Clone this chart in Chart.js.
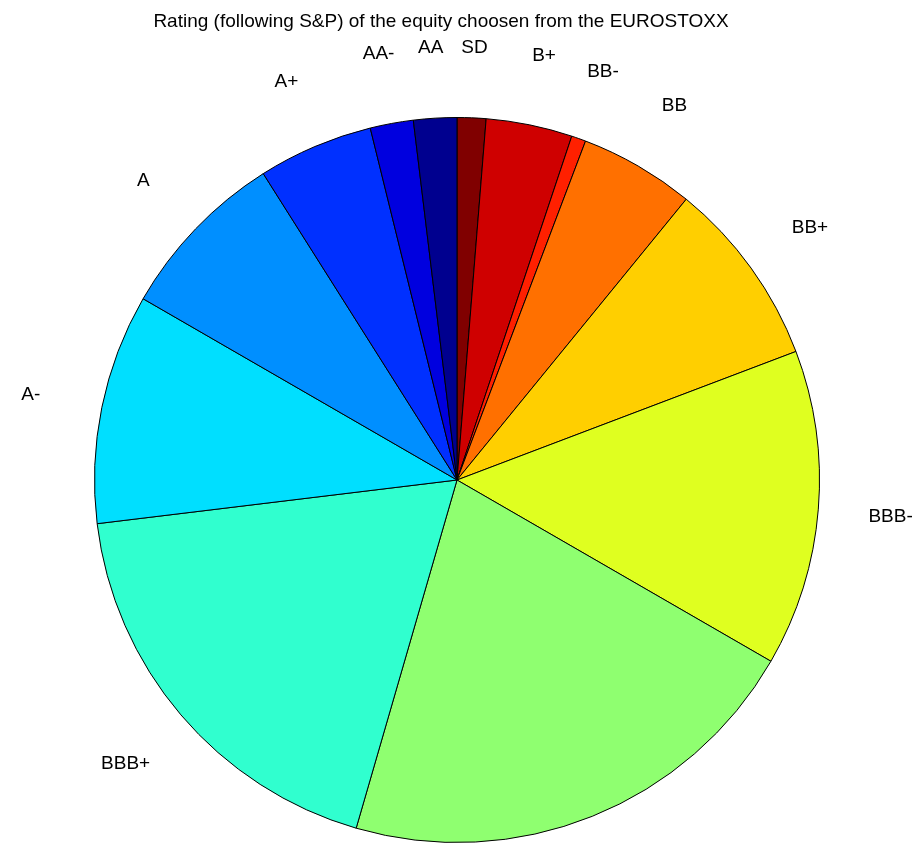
<!DOCTYPE html>
<html>
<head>
<meta charset="utf-8">
<script src="https://cdn.jsdelivr.net/npm/chart.js@4/dist/chart.umd.min.js"></script>
<style>
  html, body { margin: 0; padding: 0; background: #fff; }
  #c { display: block; }
</style>
</head>
<body>
<canvas id="c" width="920" height="843"></canvas>
<script>
// S&P ratings, from best to worst
const ratings = ['AA', 'AA-', 'A+', 'A', 'A-', 'BBB+', 'BBB', 'BBB-', 'BB+', 'BB', 'BB-', 'B+', 'SD'];
// number of equities in each rating class
const counts = [3, 3, 8, 12, 16, 29, 33, 22, 13, 8, 1, 6, 2];
// one jet-colormap entry per rating (navy -> dark red)
const sliceColors = [
  'rgb(0,0,143)', 'rgb(0,0,223)', 'rgb(0,48,255)', 'rgb(0,143,255)',
  'rgb(0,223,255)', 'rgb(48,255,207)', 'rgb(143,255,112)', 'rgb(223,255,32)',
  'rgb(255,207,0)', 'rgb(255,112,0)', 'rgb(255,32,0)', 'rgb(207,0,0)', 'rgb(128,0,0)'
];
const chartTitle = 'Rating (following S&P) of the equity choosen from the EUROSTOXX';

const FONT = '"Liberation Sans", Arial, Helvetica, sans-serif';
const FONT_SIZE = 19;

// Slices run counter-clockwise from 12 o'clock in rating order;
// Chart.js goes clockwise, so feed the lists reversed.
const cwLabels = ratings.slice().reverse();
const cwCounts = counts.slice().reverse();
const cwColors = sliceColors.slice().reverse();

const pieText = {
  id: 'pieText',
  afterDatasetsDraw(chart) {
    const ctx = chart.ctx;
    ctx.save();
    ctx.fillStyle = '#000';
    ctx.font = FONT_SIZE + 'px ' + FONT;
    ctx.textAlign = 'center';
    ctx.textBaseline = 'middle';
    // title above the pie
    const ca = chart.chartArea;
    ctx.fillText(chartTitle, (ca.left + ca.right) / 2 - 16, 21.5);
    // slice names just outside the rim
    const meta = chart.getDatasetMeta(0);
    meta.data.forEach((arc, i) => {
      const p = arc.getProps(['x', 'y', 'startAngle', 'endAngle', 'outerRadius'], true);
      const mid = (p.startAngle + p.endAngle) / 2;
      const r = p.outerRadius * 1.2;
      ctx.fillText(cwLabels[i], p.x + r * Math.cos(mid), p.y + r * Math.sin(mid) + 2);
    });
    ctx.restore();
  }
};

new Chart(document.getElementById('c'), {
  type: 'pie',
  data: {
    labels: cwLabels,
    datasets: [{
      data: cwCounts,
      backgroundColor: cwColors,
      borderColor: '#000',
      borderWidth: 1
    }]
  },
  options: {
    responsive: false,
    animation: false,
    events: [],
    layout: { padding: { top: 117, bottom: 0, left: 94, right: 100 } },
    plugins: {
      legend: { display: false },
      tooltip: { enabled: false },
      title: { display: false }
    }
  },
  plugins: [pieText]
});
</script>
</body>
</html>
